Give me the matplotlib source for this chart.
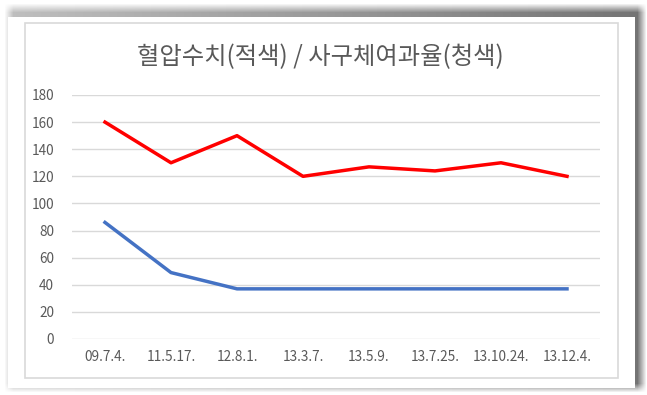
import numpy as np
import matplotlib
matplotlib.use("Agg")
import matplotlib.pyplot as plt
from matplotlib.patches import Rectangle

plt.rcParams['font.family'] = ['Noto Sans CJK KR', 'DejaVu Sans']

# chart data
dates = ["09.7.4.", "11.5.17.", "12.8.1.", "13.3.7.", "13.5.9.", "13.7.25.", "13.10.24.", "13.12.4."]
blood_pressure = [160, 130, 150, 120, 127, 124, 130, 120]
egfr_excess = [86, 49, 37, 37, 37, 37, 37, 37]
yticks = [0, 20, 40, 60, 80, 100, 120, 140, 160, 180]
title = "혈압수치(적색) / 사구체여과율(청색)"

W, H = 647, 395
fig = plt.figure(figsize=(W / 100, H / 100), dpi=100)

# background: white page with soft grey shadow top/right
bg = fig.add_axes([0, 0, 1, 1])
yy, xx = np.mgrid[0:H, 0:W]


def soft_box(x0, x1, y0, y1, blur):
    fx = np.clip((xx - x0) / blur, 0, 1) * np.clip((x1 - xx) / blur, 0, 1)
    fy = np.clip((yy - y0) / blur, 0, 1) * np.clip((y1 - yy) / blur, 0, 1)
    return fx * fy


shadow = soft_box(4, 646, 3, 392, 9.0)
shade = 0.55 * shadow * (0.45 + 0.55 * xx / W)
img = 1.0 - shade
img = np.dstack([img, img, img])
bg.imshow(img, extent=[0, W, H, 0], aspect='auto', interpolation='bilinear')
bg.add_patch(Rectangle((8, 17), 627, 371, facecolor='white', edgecolor='none'))
bg.add_patch(Rectangle((25, 23), 593, 355, facecolor='none', edgecolor='#d9d9d9', lw=1.2))
bg.set_xlim(0, W)
bg.set_ylim(H, 0)
bg.axis('off')

# plot area
ax = fig.add_axes([72 / W, 1 - 339 / H, 528 / W, 244 / H])
ax.set_facecolor('none')
x = np.arange(len(dates))
ax.plot(x, blood_pressure, color='#ff0000', lw=2.5, solid_joinstyle='round', zorder=3)
ax.plot(x, egfr_excess, color='#4472c4', lw=2.5, solid_joinstyle='round', zorder=3)

ax.set_xlim(-0.5, len(dates) - 0.5)
ax.set_ylim(0, 180)
ax.set_yticks(yticks)
ax.set_xticks(x)
ax.set_xticklabels(dates)
ax.grid(axis='y', color='#d9d9d9', lw=1)
ax.set_axisbelow(True)
for s in ax.spines.values():
    s.set_visible(False)
ax.tick_params(axis='both', length=0, colors='#595959', labelsize=9.8)
ax.tick_params(axis='y', pad=13)
ax.tick_params(axis='x', pad=8)

fig.text(320 / W, 1 - 57 / H, title, ha='center', va='center', fontsize=17.5, color='#595959')

fig.savefig("out.png", dpi=100)
